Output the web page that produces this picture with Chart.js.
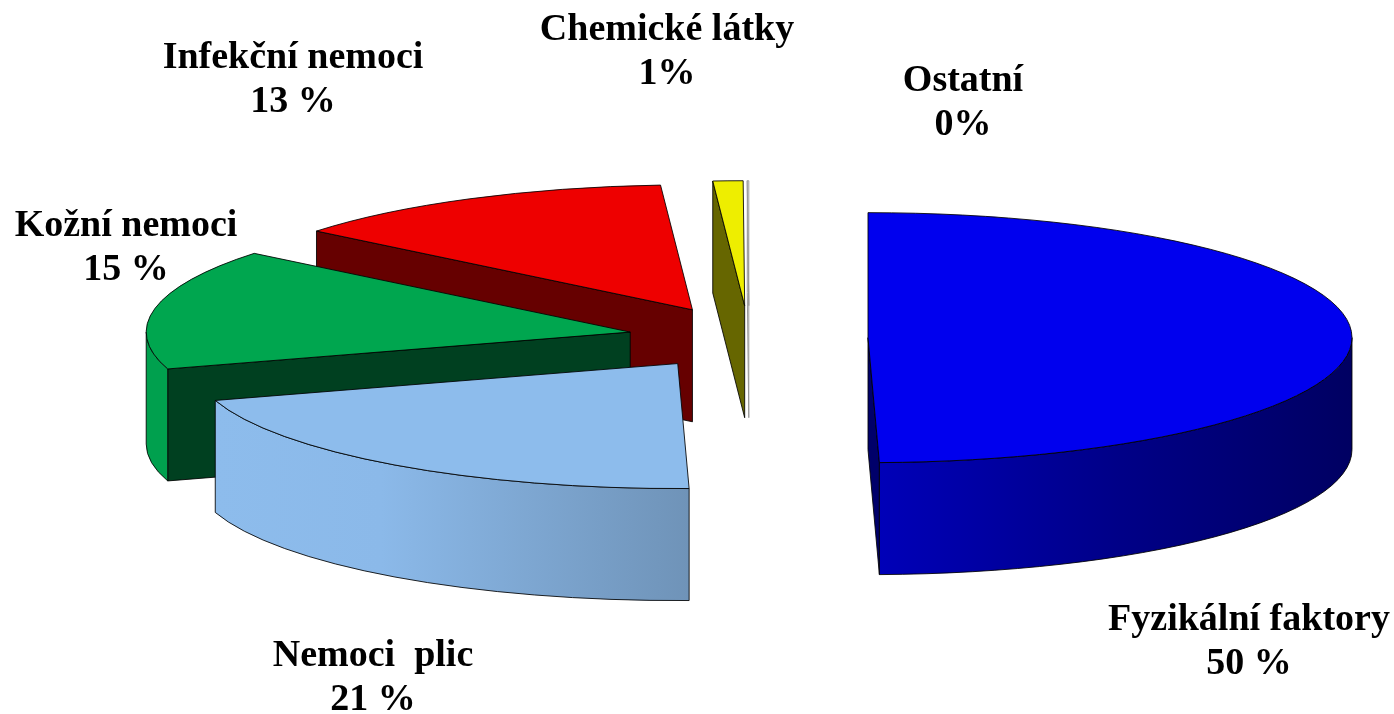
<!DOCTYPE html>
<html>
<head>
<meta charset="utf-8">
<title>Nemoci z povolání</title>
<script src="https://cdn.jsdelivr.net/npm/chart.js@4"></script>
<style>
  html, body { margin: 0; padding: 0; background: #fff; overflow: hidden; }
  canvas { display: block; }
</style>
</head>
<body>
<canvas id="pieChart" width="1394" height="714"></canvas>
<script>
// data
const categories = ['Fyzikální faktory', 'Nemoci  plic', 'Kožní nemoci', 'Infekční nemoci', 'Chemické látky', 'Ostatní'];
const shares = [49.6, 20.6, 15.6, 13.1, 1, 0.05];
const shareLabels = ['50 %', '21 %', '15 %', '13 %', '1%', '0%'];

// colours per slice
const topColors = ['#0000ee', '#8dbcec', '#00a64f', '#ee0000', '#eeee00', '#ffffff'];
const wallColors = ['#00006a', '#6f93b8', '#004020', '#660000', '#666600', '#ffffff'];
const rimStops = [
  [[0, '#0000b8'], [0.5, '#000088'], [1, '#000062']],
  [[0, '#8dbcec'], [0.35, '#8bb9e9'], [1, '#6f93b8']],
  [[0, '#00a04e'], [1, '#00a04e']],
  [[0, '#660000'], [1, '#660000']],
  [[0, '#666600'], [1, '#666600']],
  [[0, '#ffffff'], [1, '#ffffff']]
];

// look of the tilted pie
const centerX = 749, centerY = 338;
const radiusX = 484, radiusY = 125, depth = 112;
const explode = [119, 122, 121, 123, 125, 125];
const drawOrder = [5, 4, 3, 2, 1, 0];

// where each label sits: centre x, baseline of first line
const labelPos = [[1249, 630], [373, 666], [126, 236], [293, 68], [667, 40], [963, 91]];
const lineGap = 43.5;

function anchor(arc, i) {
  const mid = (arc.startAngle + arc.endAngle) / 2;
  return {
    x: centerX + Math.cos(mid) * explode[i],
    y: centerY + Math.sin(mid) * explode[i] * radiusY / radiusX
  };
}

function drawSlice(ctx, arc, i) {
  const a = anchor(arc, i);
  const s = arc.startAngle, e = arc.endAngle;
  const sx = a.x + Math.cos(s) * radiusX, sy = a.y + Math.sin(s) * radiusY;
  const ex = a.x + Math.cos(e) * radiusX, ey = a.y + Math.sin(e) * radiusY;

  ctx.lineWidth = 1;
  ctx.strokeStyle = i === 5 ? '#999' : 'rgba(0,0,0,0.85)';

  // flat cut walls, only the ones that face us
  const walls = [];
  if (Math.cos(s) < 0) walls.push([sx, sy]);
  if (Math.cos(e) > 0) walls.push([ex, ey]);
  walls.forEach(p => {
    ctx.beginPath();
    ctx.moveTo(a.x, a.y);
    ctx.lineTo(p[0], p[1]);
    ctx.lineTo(p[0], p[1] + depth);
    ctx.lineTo(a.x, a.y + depth);
    ctx.closePath();
    ctx.fillStyle = wallColors[i];
    ctx.fill();
    ctx.stroke();
  });

  // outer rim, only the part turned towards us
  const from = Math.max(s, 0), to = Math.min(e, Math.PI);
  if (to > from) {
    const x0 = a.x + Math.cos(to) * radiusX, x1 = a.x + Math.cos(from) * radiusX;
    const grad = ctx.createLinearGradient(Math.min(x0, x1), 0, Math.max(x0, x1), 0);
    rimStops[i].forEach(st => grad.addColorStop(st[0], st[1]));
    ctx.beginPath();
    ctx.ellipse(a.x, a.y, radiusX, radiusY, 0, from, to);
    ctx.ellipse(a.x, a.y + depth, radiusX, radiusY, 0, to, from, true);
    ctx.closePath();
    ctx.fillStyle = grad;
    ctx.fill();
    ctx.stroke();
  }

  // top face, the library's own arc squashed into an ellipse
  ctx.save();
  ctx.translate(a.x, a.y);
  ctx.scale(radiusX / arc.outerRadius, radiusY / arc.outerRadius);
  ctx.translate(-arc.x, -arc.y);
  arc.draw(ctx);
  ctx.restore();

  ctx.beginPath();
  ctx.moveTo(a.x, a.y);
  ctx.ellipse(a.x, a.y, radiusX, radiusY, 0, s, e);
  ctx.closePath();
  ctx.stroke();
}

const tiltedPie = {
  id: 'tiltedPie',
  beforeDatasetsDraw(chart) {
    const ctx = chart.ctx;
    const arcs = chart.getDatasetMeta(0).data;
    drawOrder.forEach(i => drawSlice(ctx, arcs[i], i));
    return false;
  },
  afterDraw(chart) {
    const ctx = chart.ctx;
    ctx.save();
    ctx.font = 'bold 38px "Liberation Serif"';
    ctx.fillStyle = '#000';
    ctx.textAlign = 'center';
    ctx.textBaseline = 'alphabetic';
    categories.forEach((name, i) => {
      const [x, y] = labelPos[i];
      ctx.fillText(name, x, y);
      ctx.fillText(shareLabels[i], x, y + lineGap);
    });
    ctx.restore();
  }
};

new Chart(document.getElementById('pieChart'), {
  type: 'pie',
  data: {
    labels: categories,
    datasets: [{
      data: shares,
      backgroundColor: topColors,
      borderWidth: 0
    }]
  },
  options: {
    responsive: false,
    animation: false,
    plugins: { legend: { display: false }, tooltip: { enabled: false } }
  },
  plugins: [tiltedPie]
});
</script>
</body>
</html>
